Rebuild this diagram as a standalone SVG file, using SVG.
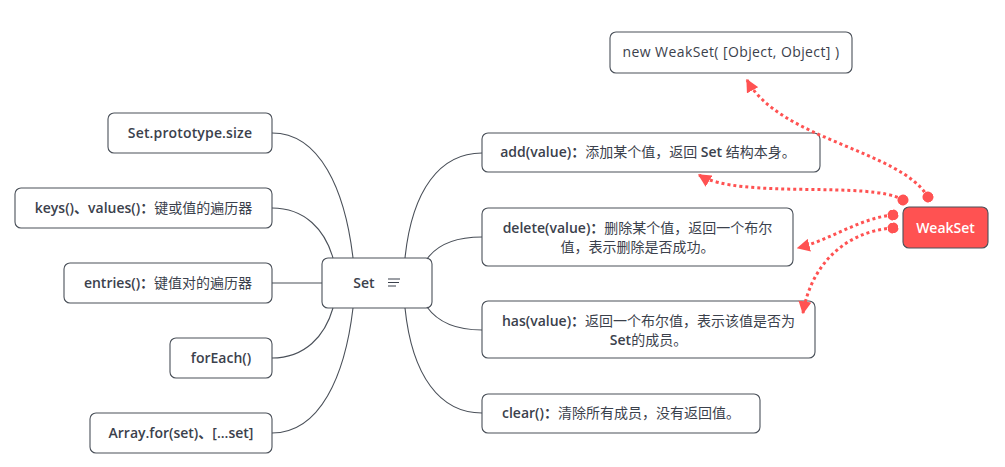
<svg xmlns="http://www.w3.org/2000/svg" width="1005" height="467" viewBox="0 0 1005 467">
<defs>
<style>
.box{fill:#fff;stroke:#4a5059;stroke-width:1.1}
.t{font-family:"Open Sans","Noto Sans CJK SC",sans-serif;font-size:14px;fill:#3b414c;text-anchor:middle}
.b{font-weight:600}
.n{font-weight:normal}
.con{fill:none;stroke:#4a5059;stroke-width:1.1}
.rel{fill:none;stroke:#ff5252;stroke-width:3;stroke-dasharray:3 3}
</style>
<marker id="arr" viewBox="0 0 10 10" refX="9" refY="5" markerWidth="13" markerHeight="13" markerUnits="userSpaceOnUse" orient="auto">
<path d="M0,0 L10,5 L0,10 z" fill="#ff5252"/>
</marker>
<marker id="dot" viewBox="0 0 10 10" refX="5" refY="5" markerWidth="11" markerHeight="11" markerUnits="userSpaceOnUse" orient="auto">
<circle cx="5" cy="5" r="5" fill="#ff5252"/>
</marker>
</defs>
<rect width="1005" height="467" fill="#fff"/>
<g id="set">
<rect class="box" x="322" y="258" width="110" height="50" rx="6"/>
<text class="t b" x="364" y="288" font-size="15">Set</text>
<path d="M388,279 H400 M388,282.5 H399 M388,286 H396" stroke="#3b414c" stroke-width="1.1"/>
</g>
<g id="size">
<rect class="box" x="108" y="113" width="164" height="40" rx="6"/>
<text class="t b" x="190" y="138" letter-spacing="0.15">Set.prototype.size</text>
</g>
<g id="keys">
<rect class="box" x="15" y="188" width="257" height="40" rx="6"/>
<text class="t" x="143.5" y="213"><tspan class="b">keys()、values()：</tspan>键或值的遍历器</text>
</g>
<g id="entries">
<rect class="box" x="64" y="263" width="208" height="40" rx="6"/>
<text class="t" x="168" y="288"><tspan class="b">entries()：</tspan>键值对的遍历器</text>
</g>
<g id="foreach">
<rect class="box" x="170" y="338" width="102" height="40" rx="6"/>
<text class="t b" x="221" y="363">forEach()</text>
</g>
<g id="array">
<rect class="box" x="90" y="413" width="182" height="40" rx="6"/>
<text class="t b" x="181" y="438">Array.for(set)、[...set]</text>
</g>
<g id="add">
<rect class="box" x="482" y="133" width="338" height="39" rx="6"/>
<text class="t" x="648" y="157"><tspan class="b">add(value)：</tspan>添加某个值，返回 <tspan class="b">Set</tspan> 结构本身。</text>
</g>
<g id="delete">
<rect class="box" x="482" y="208" width="311" height="58" rx="6"/>
<text class="t" x="637.5" y="233"><tspan class="b">delete(value)：</tspan>删除某个值，返回一个布尔</text>
<text class="t" x="637.5" y="252">值，表示删除是否成功。</text>
</g>
<g id="has">
<rect class="box" x="482" y="301" width="333" height="57" rx="6"/>
<text class="t" x="648.5" y="326"><tspan class="b">has(value)：</tspan>返回一个布尔值，表示该值是否为</text>
<text class="t" x="648.5" y="345"><tspan class="b">Set</tspan>的成员。</text>
</g>
<g id="clear">
<rect class="box" x="482" y="394" width="278" height="39" rx="6"/>
<text class="t" x="621" y="418"><tspan class="b">clear()：</tspan>清除所有成员，没有返回值。</text>
</g>
<g id="newweakset">
<rect class="box" x="610" y="32" width="242" height="41" rx="6"/>
<text class="t" x="731" y="57" letter-spacing="0.4">new WeakSet( [Object, Object] )</text>
</g>
<g id="weakset">
<rect x="903" y="207" width="85" height="41" rx="6" fill="#ff5252" stroke="#4a5059" stroke-width="1.1"/>
<text class="t b" x="945.5" y="233" style="fill:#fff" font-size="15">WeakSet</text>
</g>
<g id="connectors">
<path class="con" d="M272,133 C320,133 345,190 353,258"/>
<path class="con" d="M272,208 C305,208 325,230 333,258"/>
<path class="con" d="M272,283 L322,283"/>
<path class="con" d="M272,358 C305,358 325,336 333,308"/>
<path class="con" d="M272,433 C320,433 345,376 353,308"/>
<path class="con" d="M482,153 C440,153 412,190 405,258"/>
<path class="con" d="M482,237 C455,237 437,245 427,259"/>
<path class="con" d="M482,330 C455,330 437,321 427,307"/>
<path class="con" d="M482,413 C440,413 412,376 405,308"/>
<path class="rel" d="M928,197 C900,150 780,140 747,80" marker-start="url(#dot)" marker-end="url(#arr)"/>
<path class="rel" d="M903,200 C870,180 740,200 699,175" marker-start="url(#dot)" marker-end="url(#arr)"/>
<path class="rel" d="M893,215 C860,218 830,240 798,248" marker-start="url(#dot)" marker-end="url(#arr)"/>
<path class="rel" d="M893,228 C840,232 810,270 803,313" marker-start="url(#dot)" marker-end="url(#arr)"/>
</g>
</svg>
